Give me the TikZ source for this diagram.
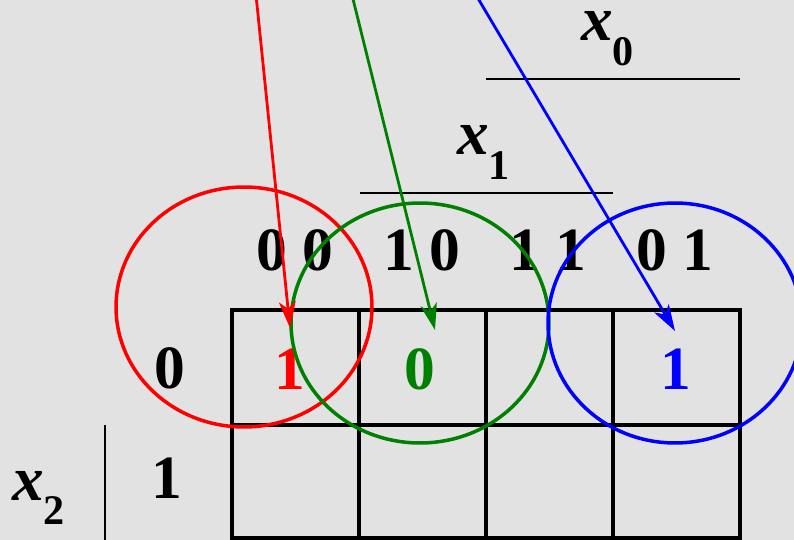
\documentclass[tikz,border=0pt]{standalone}
\usepackage{fontspec}
\setmainfont{Liberation Serif}
\definecolor{granite}{RGB}{226,226,226}
\definecolor{kgreen}{RGB}{0,128,0}
\usetikzlibrary{arrows.meta, positioning}

\begin{document}
\begin{tikzpicture}[x=0.02cm, y=-0.02cm,
    big/.style={font=\fontsize{35}{40}\selectfont\bfseries, anchor=base},
    varlab/.style={font=\fontsize{36}{40}\selectfont\bfseries, anchor=base west, inner sep=0pt},
    ring/.style={line width=2pt},
    pointer/.style={-{Stealth[length=15pt, width=9.5pt, inset=4pt]}, line width=1.6pt},
    cellline/.style={line width=2pt, line cap=rect}]
  \useasboundingbox (0,0) rectangle (794,540);
  \clip (0,0) rectangle (794,540);
  \fill[granite] (0,0) rectangle (794,540);
  % variable labels and their bars
  \node[varlab] (xzero) at (581,41)
    {\itshape x\raisebox{-14pt}{\fontsize{24}{24}\selectfont\upshape 0}};
  \node[varlab] (xone) at (457,155)
    {\itshape x\raisebox{-14pt}{\fontsize{24}{24}\selectfont\upshape 1}};
  \node[varlab] (xtwo) at (12,500)
    {\itshape x\raisebox{-14pt}{\fontsize{24}{24}\selectfont\upshape 2}};
  \draw[line width=1.2pt] (486,79) -- (740,79);
  \draw[line width=1.2pt] (360,193) -- (613,193);
  \draw[line width=1.2pt] (105,425) -- (105,545);
  % column and row headings
  \node[big] (c00) at (295,271) {0 0};
  \node[big] (c10) at (422,271) {1 0};
  \node[big] (c11) at (548,271) {1 1};
  \node[big] (c01) at (675,271) {0 1};
  \node[big] (r0) at (170,388) {0};
  \node[big] (r1) at (167,498) {1};
  % the map
  \foreach \cx in {232,359,486,613,740}
    \draw[cellline] (\cx,310) -- (\cx,545);
  \foreach \cy in {310,425,538}
    \draw[cellline] (232,\cy) -- (740,\cy);
  % cell values
  \node[big, red] (vred) at (290,389) {1};
  \node[big, kgreen] (vgreen) at (420,389) {0};
  \node[big, blue] (vblue) at (676,389) {1};
  % rings
  \draw[ring, red] (244,307) ellipse [x radius=2.56cm, y radius=2.4cm];
  \draw[ring, kgreen] (420,323) ellipse [x radius=2.58cm, y radius=2.4cm];
  \draw[ring, blue] (675,323) ellipse [x radius=2.54cm, y radius=2.4cm];
  % pointers
  \coordinate (srcred) at (256,-5);
  \coordinate (srcgreen) at (352,-5);
  \coordinate (srcblue) at (476,-5);
  \coordinate (tipred) at (290,328);
  \coordinate (tipgreen) at (435,330);
  \coordinate (tipblue) at (675,331);
  \draw[pointer, red] (srcred) -- (tipred);
  \draw[pointer, kgreen] (srcgreen) -- (tipgreen);
  \draw[pointer, blue] (srcblue) -- (tipblue);
\end{tikzpicture}
\end{document}
